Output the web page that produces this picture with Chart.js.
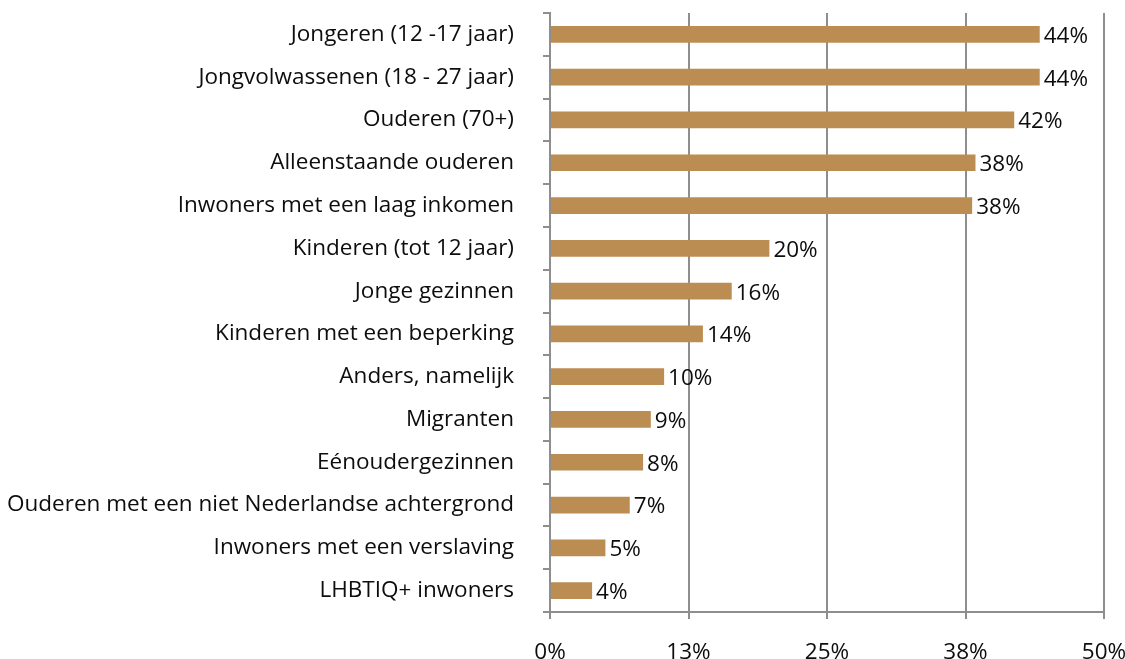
<!DOCTYPE html>
<html>
<head>
<meta charset="utf-8">
<script src="https://cdn.jsdelivr.net/npm/chart.js@4/dist/chart.umd.min.js"></script>
<style>
  html, body { margin: 0; padding: 0; background: #fff; }
  #wrap { width: 1125px; height: 659px; }
</style>
</head>
<body>
<div id="wrap"><canvas id="chart" width="1125" height="659"></canvas></div>
<script>
// Doelgroepen en percentages
const groups = [
    'Jongeren (12 -17 jaar)',
    'Jongvolwassenen (18 - 27 jaar)',
    'Ouderen (70+)',
    'Alleenstaande ouderen',
    'Inwoners met een laag inkomen',
    'Kinderen (tot 12 jaar)',
    'Jonge gezinnen',
    'Kinderen met een beperking',
    'Anders, namelijk',
    'Migranten',
    'Eénoudergezinnen',
    'Ouderen met een niet Nederlandse achtergrond',
    'Inwoners met een verslaving',
    'LHBTIQ+ inwoners'
];
const shares = [44.2, 44.2, 41.9, 38.4, 38.1, 19.8, 16.4, 13.8, 10.3, 9.1, 8.4, 7.2, 5.0, 3.8];
const axisTicks = [0, 12.5, 25, 37.5, 50];

const FONT = '"Open Sans", sans-serif';
const FONT_SIZE = 22.5;
const TEXT = '#0d0d0d';
const GRID = '#8e8e8e';

// Percentages written just past the end of each bar
const barLabels = {
    id: 'barLabels',
    afterDatasetsDraw(chart) {
        const ctx = chart.ctx;
        const meta = chart.getDatasetMeta(0);
        ctx.save();
        ctx.font = FONT_SIZE + 'px ' + FONT;
        ctx.fillStyle = TEXT;
        ctx.textAlign = 'left';
        ctx.textBaseline = 'middle';
        meta.data.forEach((bar, i) => {
            ctx.fillText(Math.round(shares[i]) + '%', bar.x + 4, bar.y + 2);
        });
        ctx.restore();
    }
};

new Chart(document.getElementById('chart'), {
    type: 'bar',
    data: {
        labels: groups,
        datasets: [{
            data: shares,
            backgroundColor: '#bc8d52',
            borderWidth: 0,
            barPercentage: 1,
            categoryPercentage: 0.39
        }]
    },
    options: {
        indexAxis: 'y',
        responsive: false,
        animation: false,
        layout: { padding: { top: 13, right: 21, bottom: 0, left: 0 } },
        plugins: {
            legend: { display: false },
            tooltip: { enabled: false }
        },
        scales: {
            x: {
                min: 0,
                max: 50,
                afterBuildTicks: scale => {
                    scale.ticks = axisTicks.map(v => ({ value: v }));
                },
                afterFit: scale => {
                    scale.height = 47;
                    scale.paddingRight = 0;
                },
                grid: {
                    color: GRID,
                    lineWidth: 2,
                    tickLength: 7,
                    tickColor: GRID
                },
                border: { color: GRID, width: 2 },
                ticks: {
                    padding: 20,
                    color: TEXT,
                    font: { family: FONT, size: FONT_SIZE },
                    maxRotation: 0,
                    callback: v => Math.round(v) + '%'
                }
            },
            y: {
                afterFit: scale => {
                    scale.width = 550;
                    // no extra room above/below for the outer labels
                    scale.paddingTop = 0;
                    scale.paddingBottom = 0;
                },
                grid: {
                    offset: true,
                    drawOnChartArea: false,
                    tickLength: 7,
                    tickColor: GRID,
                    lineWidth: 2
                },
                border: { color: GRID, width: 2 },
                ticks: {
                    padding: 29,
                    color: TEXT,
                    font: { family: FONT, size: FONT_SIZE },
                    autoSkip: false
                }
            }
        }
    },
    plugins: [barLabels]
});
</script>
</body>
</html>
